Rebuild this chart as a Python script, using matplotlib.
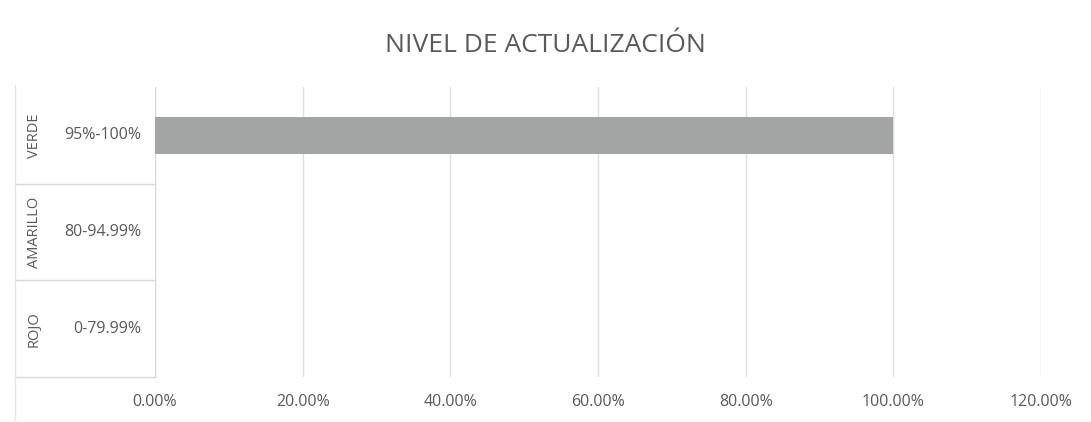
import matplotlib.pyplot as plt
from matplotlib.lines import Line2D
from matplotlib.ticker import FuncFormatter

title = "NIVEL DE ACTUALIZACIÓN"
outer_labels = ["ROJO", "AMARILLO", "VERDE"]
inner_labels = ["0-79.99%", "80-94.99%", "95%-100%"]
values = [0.0, 0.0, 1.0]
xticks = [0.0, 0.2, 0.4, 0.6, 0.8, 1.0, 1.2]

plt.rcParams['font.family'] = ['Open Sans', 'DejaVu Sans']
W, H = 1091, 422
fig = plt.figure(figsize=(W / 100, H / 100), dpi=100)
L, R, T, B = 155, 1041, 87, 377
ax = fig.add_axes([L / W, 1 - B / H, (R - L) / W, (B - T) / H])

txt = '#595959'
px = 1.2 / (R - L)
ypos = list(range(len(values)))
ax.barh(ypos, values, height=0.38, color='#a2a5a4', zorder=3)
ax.set_xlim(0, 1.2)
ax.set_ylim(-0.5, len(values) - 0.5)
ax.set_xticks(xticks)
ax.xaxis.set_major_formatter(FuncFormatter(lambda v, p: f"{v * 100:.2f}%"))
ax.grid(axis='x', color='#e0e0e0', linewidth=1, zorder=0)
ax.set_yticks([])
for s in ['top', 'right', 'bottom']:
    ax.spines[s].set_visible(False)
ax.spines['left'].set_color('#d9d9d9')
ax.tick_params(axis='x', length=0, labelsize=11.5, labelcolor=txt, pad=12)

# multi-level category labels
for i, (o, inn) in enumerate(zip(outer_labels, inner_labels)):
    ax.text(-14 * px, i, inn, ha='right', va='center', fontsize=11.5, color=txt)
    ax.text(-121 * px, i, o, ha='center', va='center', rotation=90,
            fontsize=10.5, color=txt)

for b in [-0.5, 0.5, 1.5]:
    ax.add_line(Line2D([-140 * px, 0], [b, b], color='#d9d9d9', linewidth=1,
                       clip_on=False))

# faint chart border on left
fig.add_artist(Line2D([15 / W, 15 / W], [1 - 85 / H, 1 - 420 / H], color='#e6e6e6',
                      linewidth=1, transform=fig.transFigure))

fig.text(0.5, 1 - 45 / H, title, ha='center', va='center', fontsize=19, color=txt)

fig.savefig('out.png', dpi=100, facecolor='white')
